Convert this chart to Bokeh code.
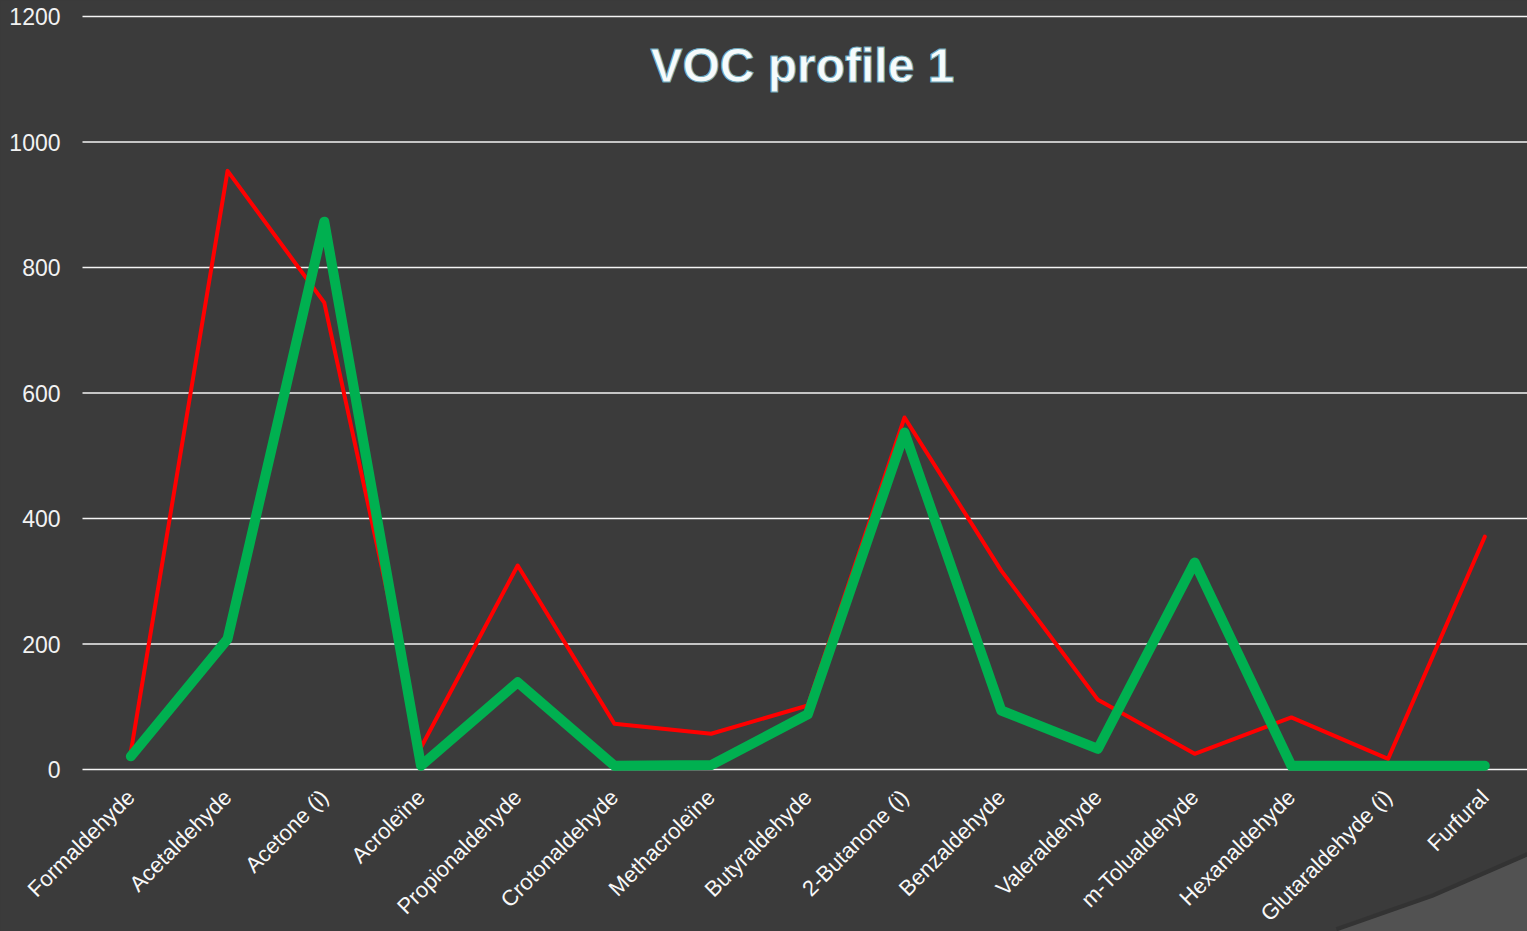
import math
from bokeh.plotting import figure
from bokeh.models import Range1d, Label
from bokeh.core.properties import value
from bokeh.embed import file_html
from bokeh.resources import INLINE

categories = ["Formaldehyde", "Acetaldehyde", "Acetone (i)", "Acroleïne", "Propionaldehyde",
              "Crotonaldehyde", "Methacroleïne", "Butyraldehyde", "2-Butanone (i)", "Benzaldehyde",
              "Valeraldehyde", "m-Tolualdehyde", "Hexanaldehyde", "Glutaraldehyde (i)", "Furfural"]
red_values = [28, 954, 744, 35, 325, 73, 57, 102, 561, 317, 111, 25, 83, 17, 371]
green_values = [21, 208, 873, 6, 139, 6, 7, 88, 537, 94, 33, 330, 6, 6, 6]
y_ticks = [0, 200, 400, 600, 800, 1000, 1200]
title_text = "VOC profile 1"

BG = "#3b3b3b"
W, H = 1527, 931
FONT = value("Liberation Sans")

# layout constants (pixels)
LEFT, ZERO_Y, TOP_Y = 82, 769, 16
STEP = 96.71                 # pixels per category
PX = (ZERO_Y - TOP_Y) / 1200  # pixels per value unit


def xd(px):
    return -0.5 + (px - LEFT) / STEP


def yd(py):
    return (ZERO_Y - py) / PX


xs = list(range(len(categories)))

# the frame covers the whole canvas; axes are drawn by hand so the slanted
# labels can reach the left and bottom edges as in the original
p = figure(width=W, height=H, output_backend="svg", toolbar_location=None,
           x_range=Range1d(xd(0), xd(W)), y_range=Range1d(yd(H), yd(0)),
           min_border_left=0, min_border_top=0, min_border_bottom=0, min_border_right=0)
p.background_fill_color = BG
p.border_fill_color = BG
p.outline_line_color = None
p.xaxis.visible = False
p.yaxis.visible = False
p.xgrid.visible = False
p.ygrid.visible = False

# decorative lighter corner with a soft shadow edge
corner_px = [(1336, 931), (1433, 897), (1527, 856), (1527, 931)]
p.line([xd(a) for a, b in corner_px[:3]], [yd(b - 2) for a, b in corner_px[:3]],
       line_color="#323232", line_width=5, line_alpha=0.8)
p.patch([xd(a) for a, b in corner_px], [yd(b) for a, b in corner_px],
        fill_color="#525252", line_color=None)

# horizontal grid lines
p.segment(x0=[xd(LEFT)] * len(y_ticks), x1=[xd(W + 5)] * len(y_ticks),
          y0=y_ticks, y1=y_ticks, line_color="#f4f4f4", line_width=1.6)

# value labels
p.text(x=[xd(LEFT - 22)] * len(y_ticks), y=y_ticks, text=[str(t) for t in y_ticks],
       text_align="right", text_baseline="middle",
       text_color="#f2f2f2", text_font=FONT, text_font_size="23px")

# category labels
p.text(x=xs, y=[yd(ZERO_Y + 24)] * len(xs), text=categories, angle=math.pi / 4,
       text_align="right", text_baseline="middle",
       text_color="#f8f8f8", text_font=FONT, text_font_size="22px")

p.line(xs, red_values, line_color="#ff0000", line_width=4, line_join="round", line_cap="round")
p.line(xs, green_values, line_color="#00b050", line_width=10, line_join="round", line_cap="round")

p.add_layout(Label(x=6.944, y=yd(83) + 18 / PX, text=title_text, text_align="center",
                   text_baseline="alphabetic",
                   text_font="Liberation Sans", text_font_style="bold", text_font_size="48px",
                   text_color="#f6fbfc", text_outline_color="#6fa8bb"))

html = file_html(p, INLINE)
html = html.replace("</head>", "<style>html, body { background-color: %s; }</style></head>" % BG, 1)
open("out.html", "w").write(html)
